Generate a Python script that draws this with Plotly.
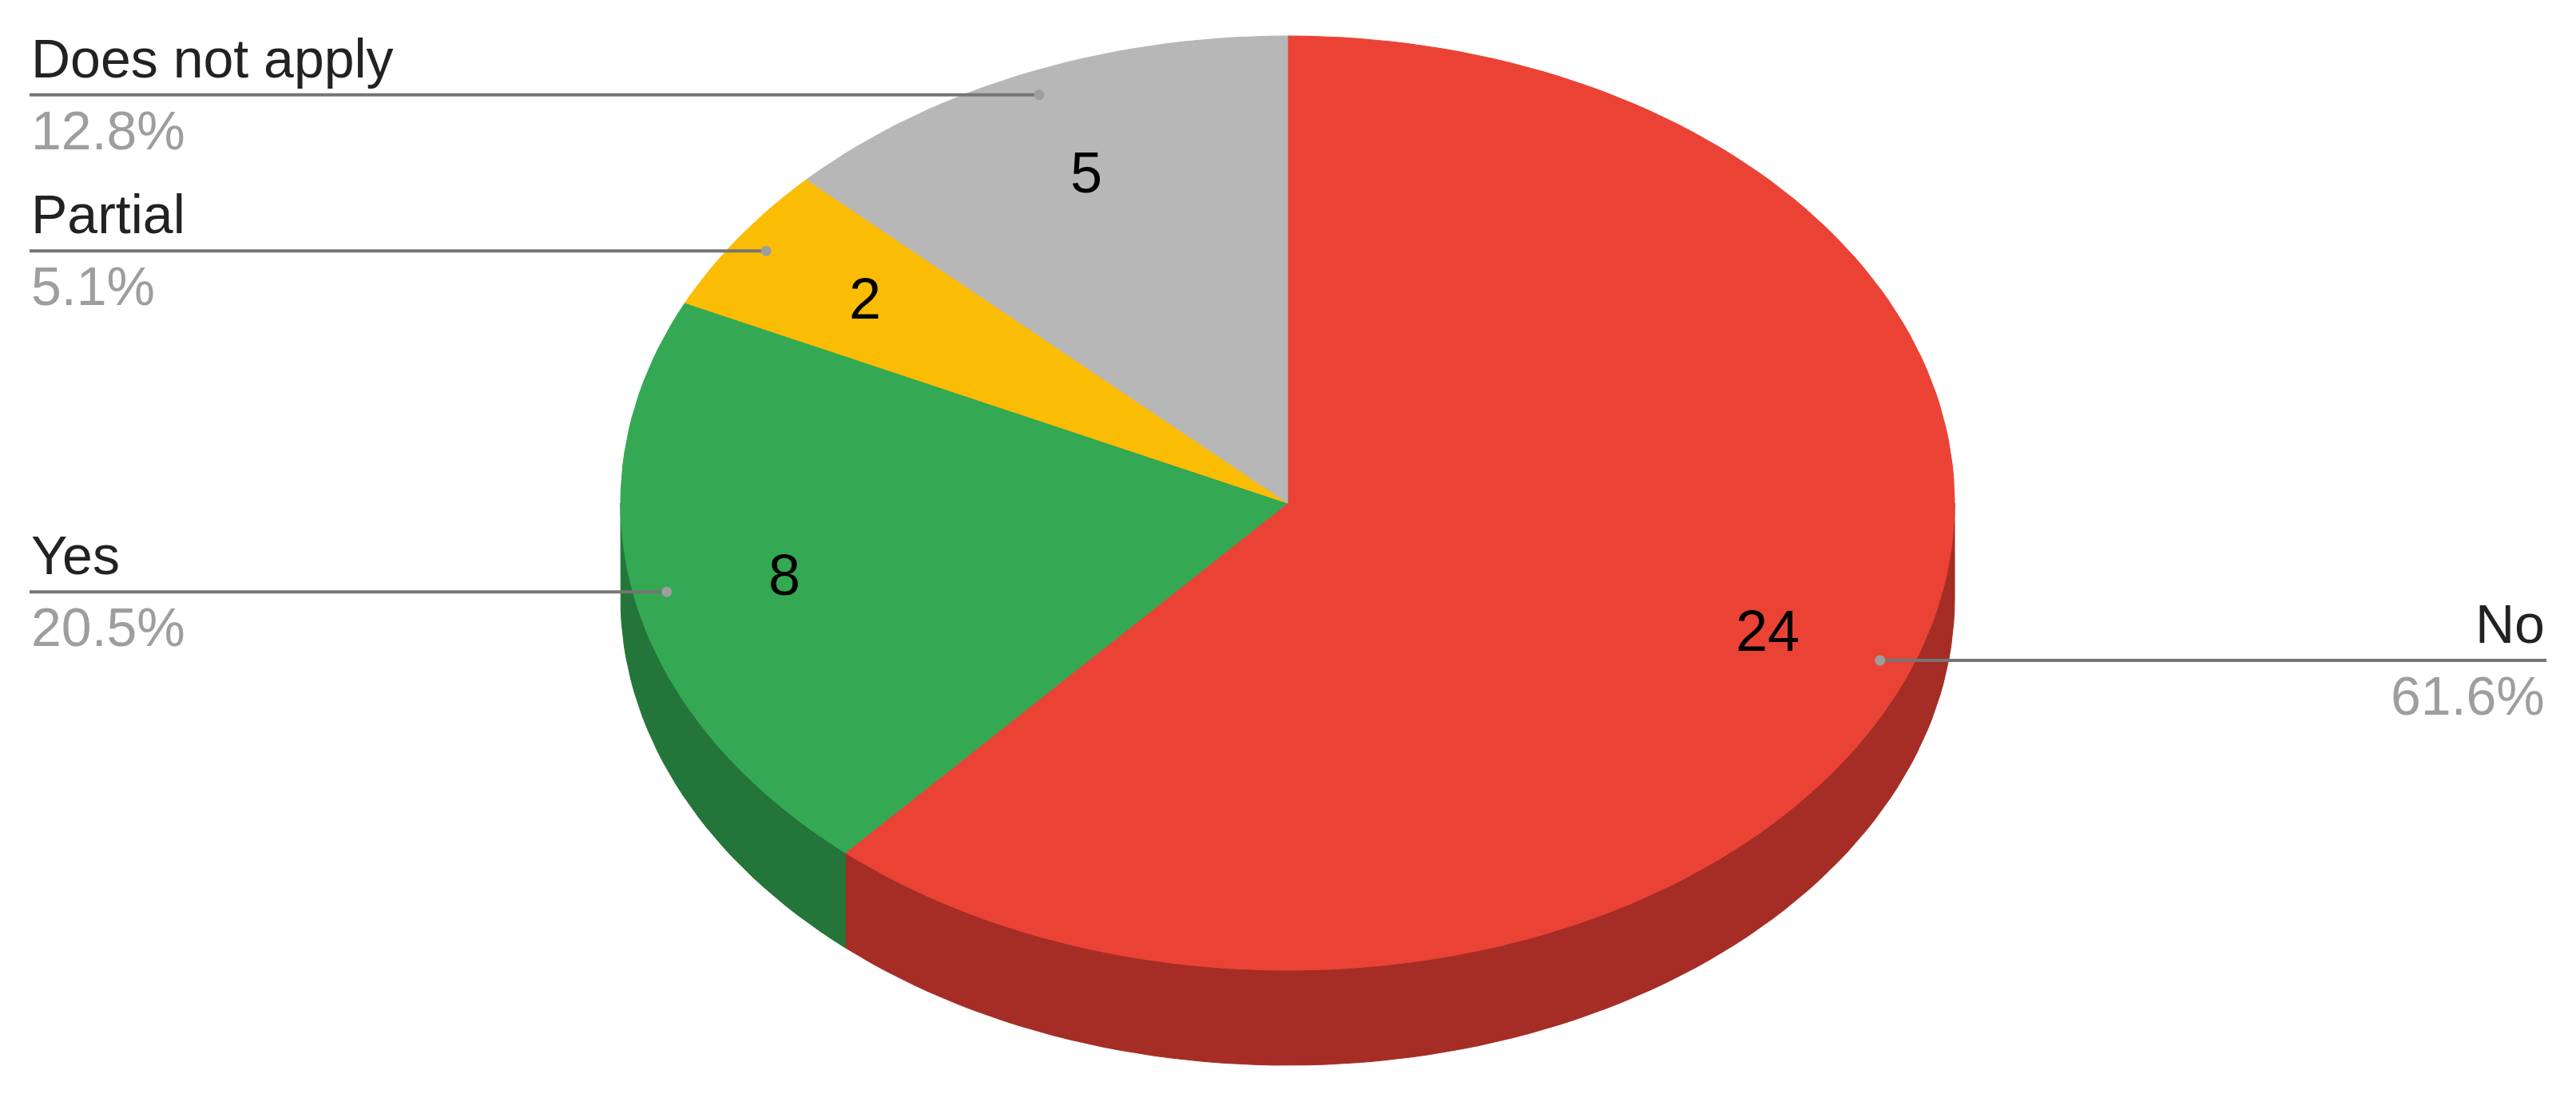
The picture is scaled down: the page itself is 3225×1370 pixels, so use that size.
import math
import plotly.graph_objects as go

# ---- data ----
categories = ["No", "Yes", "Partial", "Does not apply"]
values = [24, 8, 2, 5]
pct_labels = ["61.6%", "20.5%", "5.1%", "12.8%"]
top_colors = ["#EA4335", "#34A853", "#FBBC04", "#B7B7B7"]
side_colors = ["#A52D25", "#24753A", "#B08403", "#808080"]

# ---- layout constants (page pixel space) ----
W, H = 3225, 1370
PAD = 8  # browser body margin
CX, CY = 1612, 630
RX, RY = 835, 585
DEPTH = 119
FONT = "Liberation Sans, Arial, sans-serif"


def pt(theta_deg, f=1.0, dy=0.0):
    t = math.radians(theta_deg)
    return CX + RX * f * math.sin(t), CY - RY * f * math.cos(t) + dy


def arc(a0, a1, dy=0.0, n=240):
    xs, ys = [], []
    steps = max(2, int(n * (a1 - a0) / 360) + 2)
    for i in range(steps):
        a = a0 + (a1 - a0) * i / (steps - 1)
        x, y = pt(a, 1.0, dy)
        xs.append(x)
        ys.append(y)
    return xs, ys


total = sum(values)
bounds = []
acc = 0
for v in values:
    a0 = acc / total * 360
    acc += v
    a1 = acc / total * 360
    bounds.append((a0, a1))

fig = go.Figure()

# side walls (front half: 90..270 deg clockwise from top)
for (a0, a1), sc in zip(bounds, side_colors):
    s0, s1 = max(a0, 90), min(a1, 270)
    if s1 <= s0:
        continue
    tx, ty = arc(s0, s1)
    bx, by = arc(s0, s1, DEPTH)
    xs = tx + bx[::-1] + [tx[0]]
    ys = ty + by[::-1] + [ty[0]]
    fig.add_trace(go.Scatter(x=xs, y=ys, mode="lines", fill="toself",
                             fillcolor=sc, line=dict(color=sc, width=1),
                             hoverinfo="skip", showlegend=False))

# top faces
for (a0, a1), tc in zip(bounds, top_colors):
    ax, ay = arc(a0, a1)
    xs = [CX] + ax + [CX]
    ys = [CY] + ay + [CY]
    fig.add_trace(go.Scatter(x=xs, y=ys, mode="lines", fill="toself",
                             fillcolor=tc, line=dict(color=tc, width=1),
                             hoverinfo="skip", showlegend=False))

annotations = []
LEFT_X, RIGHT_X = 37, 3188
for cat, v, pl, (a0, a1) in zip(categories, values, pct_labels, bounds):
    mid = (a0 + a1) / 2
    # value label inside slice
    vx, vy = pt(mid, 0.77)
    annotations.append(dict(x=vx, y=vy, text=str(v), showarrow=False,
                            xanchor="center", yanchor="middle",
                            font=dict(family=FONT, size=72, color="#000000")))
    # leader line + dot
    dx, dy = pt(mid, 0.95)
    end_x = LEFT_X if mid > 180 else RIGHT_X
    fig.add_trace(go.Scatter(x=[end_x, dx], y=[dy, dy], mode="lines",
                             line=dict(color="#757575", width=4),
                             hoverinfo="skip", showlegend=False))
    fig.add_trace(go.Scatter(x=[dx], y=[dy], mode="markers",
                             marker=dict(color="#9E9E9E", size=13, line=dict(width=0)),
                             hoverinfo="skip", showlegend=False))
    anchor = "left" if mid > 180 else "right"
    annotations.append(dict(x=end_x, y=dy - 6, text=cat, showarrow=False,
                            xanchor=anchor, yanchor="bottom",
                            font=dict(family=FONT, size=68, color="#222222")))
    annotations.append(dict(x=end_x, y=dy + 4, text=pl, showarrow=False,
                            xanchor=anchor, yanchor="top",
                            font=dict(family=FONT, size=68, color="#9E9E9E")))

fig.update_layout(
    width=W - 2 * PAD, height=H - 2 * PAD,
    margin=dict(l=0, r=0, t=0, b=0),
    paper_bgcolor="white", plot_bgcolor="white",
    xaxis=dict(range=[PAD, W - PAD], visible=False, fixedrange=True),
    yaxis=dict(range=[H - PAD, PAD], visible=False, fixedrange=True),
    annotations=annotations,
    showlegend=False,
)

fig.write_html("out.html")
